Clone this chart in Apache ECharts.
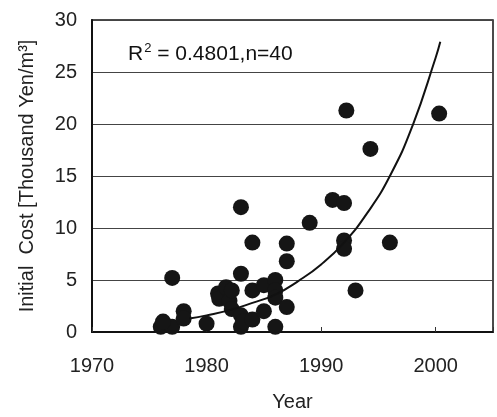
<!DOCTYPE html>
<html>
<head>
<meta charset="utf-8">
<script src="https://cdn.jsdelivr.net/npm/echarts@6/dist/echarts.min.js"></script>
<style>
html,body{margin:0;padding:0;background:#fff;}
#chart{width:497px;height:417px;}
</style>
</head>
<body>
<div id="chart"></div>
<script>
// scatter points: [year, initial cost]
var years = [1976, 1977, 1976.2, 1977, 1978, 1978, 1980, 1981, 1981.1, 1981.7,
             1982, 1982.2, 1983, 1983, 1983, 1983, 1983.2, 1984, 1984, 1984,
             1985, 1985, 1986, 1986, 1986, 1986, 1987, 1987, 1987, 1989,
             1991, 1992, 1992, 1992, 1993, 1996, 1992.2, 2000.3, 1994.3, 1982.2];
var costs = [0.5, 0.5, 1.0, 5.2, 2.0, 1.3, 0.8, 3.7, 3.2, 4.3,
             3.0, 2.2, 12.0, 5.6, 1.6, 0.5, 1.0, 8.6, 4.0, 1.2,
             4.5, 2.0, 5.0, 4.0, 3.3, 0.5, 8.5, 6.8, 2.4, 10.5,
             12.7, 12.4, 8.8, 8.0, 4.0, 8.6, 21.3, 21.0, 17.6, 4.0];
// trend curve
var curveYears = [1978.5, 1980, 1982, 1984, 1986, 1988, 1990, 1992, 1994, 1996, 1998, 2000, 2000.4];
var curveCosts = [1.3, 1.6, 2.1, 2.8, 3.6, 4.9, 6.5, 8.6, 11.4, 15.0, 19.9, 26.4, 27.9];
var xTicks = [1970, 1980, 1990, 2000];

var pts = [];
for (var i = 0; i < years.length; i++) pts.push([years[i], costs[i]]);
var curve = [];
for (var j = 0; j < curveYears.length; j++) curve.push([curveYears[j], curveCosts[j]]);

var font = 'Liberation Sans, Arial, sans-serif';
var myChart = echarts.init(document.getElementById('chart'), null, {renderer: 'canvas'});
var option = {
    backgroundColor: '#fff',
    animation: false,
    grid: {left: 92, top: 20, right: 4, bottom: 82, show: true, borderColor: '#111', borderWidth: 1.5},
    xAxis: {
        type: 'value', min: 1970, max: 2005, interval: 10,
        name: 'Year', nameLocation: 'middle', nameGap: 60,
        nameTextStyle: {fontSize: 20, color: '#222', fontFamily: font},
        axisLine: {show: true, lineStyle: {color: '#111', width: 2}},
        axisTick: {show: true, inside: true, length: 5, lineStyle: {color: '#333'}},
        axisLabel: {
            margin: 24, fontSize: 20, color: '#222', fontFamily: font,
            formatter: function (v) { return xTicks.indexOf(v) >= 0 ? String(v) : ''; }
        },
        splitLine: {show: false}
    },
    yAxis: {
        type: 'value', min: 0, max: 30, interval: 5,
        name: 'Initial  Cost [Thousand Yen/m\u00b3]', nameLocation: 'middle', nameGap: 55,
        nameTextStyle: {fontSize: 20, color: '#222', fontFamily: font},
        axisLine: {show: true, lineStyle: {color: '#111', width: 2}},
        axisTick: {show: false},
        axisLabel: {margin: 15, fontSize: 20, color: '#222', fontFamily: font},
        splitLine: {show: true, lineStyle: {color: '#444', width: 1.2}}
    },
    graphic: [{
        type: 'text', left: 128, top: 42, z: 10,
        style: {
            text: '{a|R}{s|2}{a| = 0.4801,n=40}',
            rich: {
                a: {fontSize: 21, fontFamily: font, fill: '#111', verticalAlign: 'bottom'},
                s: {fontSize: 13, fontFamily: font, fill: '#111', verticalAlign: 'top', padding: [0, 0, 10, 1]}
            }
        }
    }],
    series: [{
        type: 'scatter', data: pts, symbolSize: 16,
        itemStyle: {color: '#151515', opacity: 1}
    }, {
        type: 'line', data: curve, smooth: true, showSymbol: false,
        lineStyle: {color: '#111', width: 2}, z: 3
    }]
};
myChart.setOption(option);
</script>
</body>
</html>
